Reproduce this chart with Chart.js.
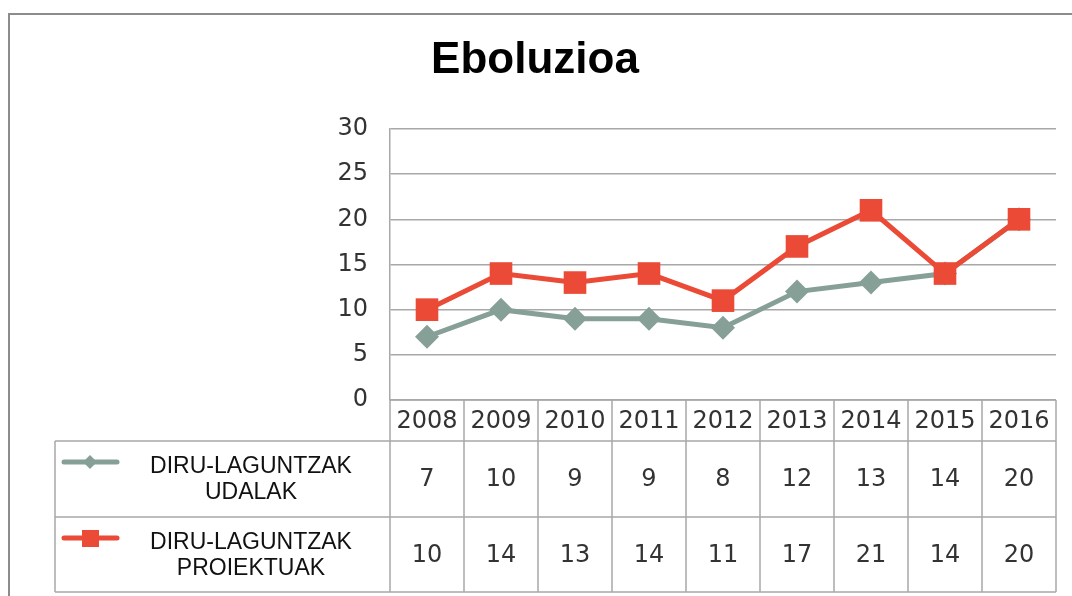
<!DOCTYPE html>
<html>
<head>
<meta charset="utf-8">
<title>Eboluzioa</title>
<script src="https://cdn.jsdelivr.net/npm/chart.js@4/dist/chart.umd.min.js"></script>
<style>
    html, body { margin: 0; padding: 0; background: #fff; }
    canvas { display: block; }
</style>
</head>
<body>
<canvas id="chart" width="1072" height="596"></canvas>
<script>
const years = ['2008', '2009', '2010', '2011', '2012', '2013', '2014', '2015', '2016'];
const udalak = [7, 10, 9, 9, 8, 12, 13, 14, 20];
const proiektuak = [10, 14, 13, 14, 11, 17, 21, 14, 20];
const seriesNames = [['DIRU-LAGUNTZAK', 'UDALAK'], ['DIRU-LAGUNTZAK', 'PROIEKTUAK']];

const GRAY = '#87a097';
const RED = '#ea4a36';
const GRID = '#a8a8a8';
const NUM_FONT = '"DejaVu Sans", sans-serif';

// draws the outer frame, the title and the data table under the plot
const tablePlugin = {
    id: 'dataTable',
    afterDraw(chart) {
        const { ctx, chartArea, scales } = chart;
        const x = scales.x;
        const colW = (chartArea.right - chartArea.left) / years.length;
        const headTop = chartArea.bottom;
        const headBottom = 441;
        const rowMid = 517;
        const tableBottom = 592;
        const tableLeft = 55;

        ctx.save();

        // frame
        ctx.strokeStyle = '#8c8c8c';
        ctx.lineWidth = 2;
        ctx.beginPath();
        ctx.moveTo(9, 596);
        ctx.lineTo(9, 14);
        ctx.lineTo(1072, 14);
        ctx.stroke();

        // title
        ctx.fillStyle = '#000';
        ctx.font = 'bold 44px "Liberation Sans", Arial, sans-serif';
        ctx.textAlign = 'center';
        ctx.textBaseline = 'alphabetic';
        ctx.fillText('Eboluzioa', 535, 73);

        // table lines
        ctx.strokeStyle = GRID;
        ctx.lineWidth = 1.5;
        ctx.beginPath();
        ctx.moveTo(chartArea.left, headTop);
        ctx.lineTo(chartArea.right, headTop);
        ctx.moveTo(tableLeft, headBottom);
        ctx.lineTo(chartArea.right, headBottom);
        ctx.moveTo(tableLeft, rowMid);
        ctx.lineTo(chartArea.right, rowMid);
        ctx.moveTo(tableLeft, tableBottom);
        ctx.lineTo(chartArea.right, tableBottom);
        ctx.moveTo(tableLeft, headBottom);
        ctx.lineTo(tableLeft, tableBottom);
        for (let i = 0; i <= years.length; i++) {
            const cx = chartArea.left + i * colW;
            ctx.moveTo(cx, headTop);
            ctx.lineTo(cx, tableBottom);
        }
        ctx.stroke();

        // header and values
        ctx.fillStyle = '#333';
        ctx.font = '24px ' + NUM_FONT;
        ctx.textBaseline = 'middle';
        years.forEach((year, i) => {
            const cx = x.getPixelForValue(i);
            ctx.fillText(year, cx, (headTop + headBottom) / 2 + 1);
            ctx.fillText(String(udalak[i]), cx, (headBottom + rowMid) / 2 + 1);
            ctx.fillText(String(proiektuak[i]), cx, (rowMid + tableBottom) / 2 + 1);
        });

        // legend cells
        const rows = [
            { top: headBottom, bottom: rowMid, color: GRAY, marker: 'diamond' },
            { top: rowMid, bottom: tableBottom, color: RED, marker: 'square' },
        ];
        rows.forEach((row, r) => {
            const my = row.top + 21;
            ctx.strokeStyle = row.color;
            ctx.lineWidth = 5;
            ctx.lineCap = 'round';
            ctx.beginPath();
            ctx.moveTo(64, my);
            ctx.lineTo(117, my);
            ctx.stroke();
            ctx.fillStyle = row.color;
            if (row.marker === 'diamond') {
                ctx.beginPath();
                ctx.moveTo(90, my - 7);
                ctx.lineTo(97, my);
                ctx.lineTo(90, my + 7);
                ctx.lineTo(83, my);
                ctx.closePath();
                ctx.fill();
            } else {
                ctx.fillRect(82, my - 8, 17, 17);
            }

            ctx.fillStyle = '#111';
            ctx.font = '23px "Liberation Sans", Arial, sans-serif';
            ctx.textBaseline = 'middle';
            const mid = (row.top + row.bottom) / 2;
            ctx.fillText(seriesNames[r][0], 251, mid - 12);
            ctx.fillText(seriesNames[r][1], 251, mid + 14);
        });

        ctx.restore();
    }
};

new Chart(document.getElementById('chart'), {
    type: 'line',
    data: {
        labels: years,
        datasets: [
            {
                label: seriesNames[0].join(' '),
                data: udalak,
                borderColor: GRAY,
                backgroundColor: GRAY,
                borderWidth: 5,
                pointStyle: 'rectRot',
                pointRadius: 12,
                pointBorderWidth: 0,
                order: 2,
            },
            {
                label: seriesNames[1].join(' '),
                data: proiektuak,
                borderColor: RED,
                backgroundColor: RED,
                borderWidth: 5,
                pointStyle: 'rect',
                pointRadius: 16,
                pointBorderWidth: 0,
                order: 1,
            },
        ],
    },
    options: {
        responsive: false,
        animation: false,
        layout: { padding: { top: 129, bottom: 196, left: 0, right: 15 } },
        plugins: {
            legend: { display: false },
            title: { display: false },
            tooltip: { enabled: false },
        },
        scales: {
            x: {
                display: false,
                offset: true,
            },
            y: {
                min: 0,
                max: 30,
                afterFit(scale) {
                    scale.width = 390;
                },
                ticks: {
                    stepSize: 5,
                    padding: 22,
                    color: '#333',
                    font: { family: NUM_FONT, size: 24 },
                },
                grid: {
                    color: GRID,
                    lineWidth: 1.5,
                    drawTicks: false,
                },
                border: { display: true, color: GRID, width: 1.5 },
            },
        },
    },
    plugins: [tablePlugin],
});
</script>
</body>
</html>
